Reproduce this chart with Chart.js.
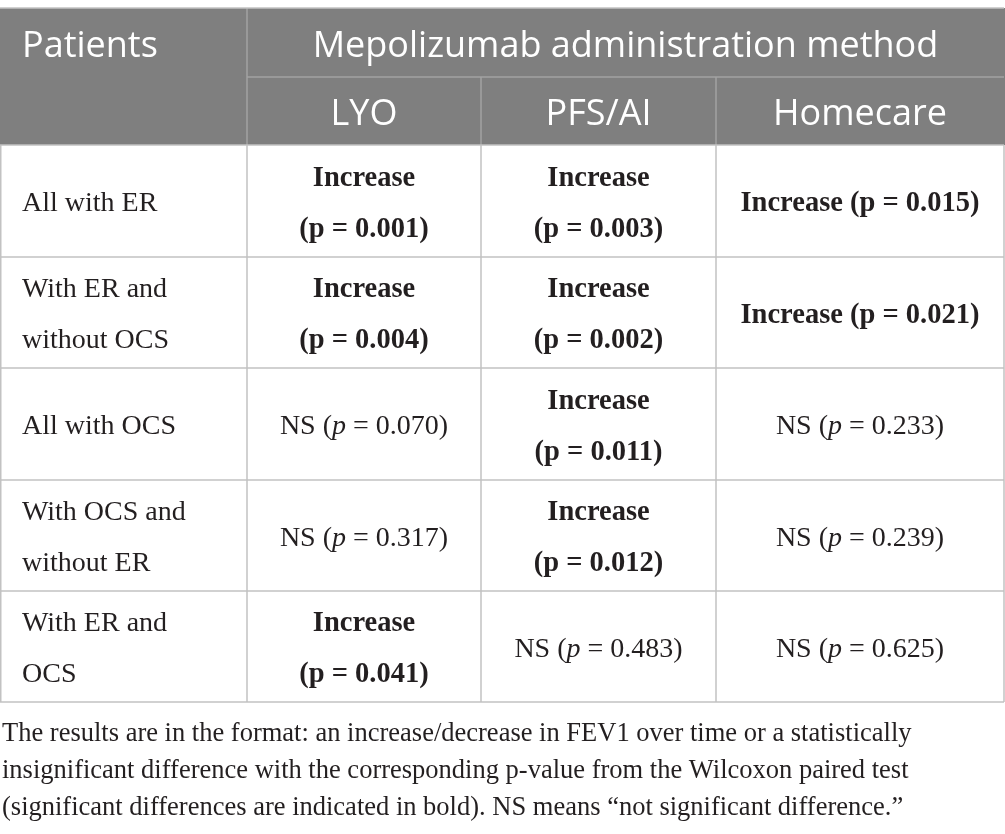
<!DOCTYPE html>
<html><head><meta charset="utf-8">
<style>html,body{margin:0;padding:0;background:#fff;overflow:hidden}#wrap{width:1005px;height:834px}</style>
<script src="https://cdn.jsdelivr.net/npm/chart.js@4.4.1/dist/chart.umd.min.js"></script>
</head><body><div id="wrap"><canvas id="c" width="1005" height="834"></canvas></div>
<script>
// ---------- data ----------
const cornerTitle = "Patients";
const groupTitle = "Mepolizumab administration method";
const methods = ["LYO", "PFS/AI", "Homecare"];
const patients = ["All with ER", "With ER and\nwithout OCS", "All with OCS", "With OCS and\nwithout ER", "With ER and\nOCS"];
const lyoP  = ["0.001", "0.004", "0.070", "0.317", "0.041"];
const lyoSig = [true, true, false, false, true];
const pfsP  = ["0.003", "0.002", "0.011", "0.012", "0.483"];
const pfsSig = [true, true, true, true, false];
const homeP = ["0.015", "0.021", "0.233", "0.239", "0.625"];
const homeSig = [true, true, false, false, false];
const footnote = [
  "The results are in the format: an increase/decrease in FEV1 over time or a statistically",
  "insignificant difference with the corresponding p-value from the Wilcoxon paired test",
  "(significant differences are indicated in bold). NS means \u201cnot significant difference.\u201d"
];

// ---------- layout (positions / styles) ----------
const colEdges = [0, 247, 481, 716, 1004];
const rowEdges = [8, 77, 145, 257, 368, 480, 591, 702];
const footBase = [741, 778, 815];
const HEAD_BG = "#7f7f7f", HEAD_LINE = "#a3a3a3", BODY_LINE = "#c2c2c2", TXT = "#231f20";
const HEAD_FONT = "36px 'Open Sans'";
const SERIF = "'Liberation Serif', 'DejaVu Serif', serif";
const BODY_PX = 28, BOLD_PX = 28.5, FOOT_PX = 26.5;

const pCols = [lyoP, pfsP, homeP];
const sCols = [lyoSig, pfsSig, homeSig];

// anchor points for each body cell (col index, row index)
const cellPoints = [];
patients.forEach((p, r) => {
  for (let c = 0; c < 4; c++) {
    cellPoints.push({
      x: c === 0 ? colEdges[0] + 22 : (colEdges[c] + colEdges[c + 1]) / 2,
      y: (rowEdges[r + 2] + rowEdges[r + 3]) / 2,
      r, c
    });
  }
});

function segsWidth(ctx, segs) {
  let w = 0;
  segs.forEach(s => { ctx.font = s.f; w += ctx.measureText(s.t).width; });
  return w;
}
function drawSegs(ctx, segs, x, y, align) {
  const w = segsWidth(ctx, segs);
  let cx = align === 'center' ? x - w / 2 : x;
  ctx.textAlign = 'left';
  segs.forEach(s => { ctx.font = s.f; ctx.fillText(s.t, cx, y); cx += ctx.measureText(s.t).width; });
}

const tablePlugin = {
  id: 'tablePlugin',
  beforeDatasetsDraw(chart) {
    const ctx = chart.ctx, xs = chart.scales.x, ys = chart.scales.y;
    const X = v => xs.getPixelForValue(v), Y = v => ys.getPixelForValue(v);
    ctx.save();
    ctx.fillStyle = HEAD_BG;
    ctx.fillRect(X(colEdges[0]), Y(rowEdges[0]), X(colEdges[4]) - X(colEdges[0]) + 1, Y(rowEdges[2]) - Y(rowEdges[0]));
    ctx.strokeStyle = HEAD_LINE; ctx.lineWidth = 1.5;
    ctx.beginPath();
    ctx.moveTo(X(colEdges[1]), Y(rowEdges[1])); ctx.lineTo(X(colEdges[4]), Y(rowEdges[1]));
    ctx.moveTo(X(colEdges[1]), Y(rowEdges[0])); ctx.lineTo(X(colEdges[1]), Y(rowEdges[2]));
    for (let c = 2; c < 4; c++) { ctx.moveTo(X(colEdges[c]), Y(rowEdges[1])); ctx.lineTo(X(colEdges[c]), Y(rowEdges[2])); }
    ctx.stroke();
    ctx.strokeStyle = BODY_LINE;
    ctx.beginPath();
    ctx.moveTo(X(colEdges[0]), Y(rowEdges[0])); ctx.lineTo(X(colEdges[4]), Y(rowEdges[0]));
    ctx.stroke();
    ctx.beginPath();
    for (let r = 2; r < rowEdges.length; r++) { ctx.moveTo(X(colEdges[0]), Y(rowEdges[r])); ctx.lineTo(X(colEdges[4]), Y(rowEdges[r])); }
    for (let c = 0; c < colEdges.length; c++) {
      const xx = c === 0 ? X(colEdges[c]) + 0.75 : X(colEdges[c]);
      ctx.moveTo(xx, Y(rowEdges[2])); ctx.lineTo(xx, Y(rowEdges[rowEdges.length - 1]));
    }
    ctx.stroke();
    ctx.restore();
  },
  afterDatasetsDraw(chart) {
    const ctx = chart.ctx, xs = chart.scales.x, ys = chart.scales.y;
    const X = v => xs.getPixelForValue(v), Y = v => ys.getPixelForValue(v);
    ctx.save();
    ctx.textBaseline = 'alphabetic';
    ctx.fillStyle = "#ffffff"; ctx.font = HEAD_FONT;
    const h1 = (rowEdges[0] + rowEdges[1]) / 2, h2 = (rowEdges[1] + rowEdges[2]) / 2;
    ctx.textAlign = 'left';
    ctx.fillText(cornerTitle, X(colEdges[0] + 22), Y(h1) + 14.5);
    ctx.textAlign = 'center';
    ctx.fillText(groupTitle, (X(colEdges[1]) + X(colEdges[4])) / 2, Y(h1) + 14.5);
    methods.forEach((m, i) => ctx.fillText(m, (X(colEdges[i + 1]) + X(colEdges[i + 2])) / 2, Y(h2) + 14));
    ctx.fillStyle = TXT;
    const reg = BODY_PX + "px " + SERIF, bold = "bold " + BOLD_PX + "px " + SERIF, ital = "italic " + BODY_PX + "px " + SERIF;
    const meta = chart.getDatasetMeta(0);
    meta.data.forEach((pt, i) => {
      const raw = cellPoints[i];
      let lines, align;
      if (raw.c === 0) {
        lines = patients[raw.r].split("\n").map(t => [{ t, f: reg }]);
        align = 'left';
      } else {
        const p = pCols[raw.c - 1][raw.r], sig = sCols[raw.c - 1][raw.r];
        align = 'center';
        if (sig) {
          const a = [{ t: "Increase", f: bold }], b = [{ t: "(p = " + p + ")", f: bold }];
          const one = [{ t: "Increase (p = " + p + ")", f: bold }];
          const avail = X(colEdges[raw.c + 1]) - X(colEdges[raw.c]) - 30;
          lines = segsWidth(ctx, one) <= avail ? [one] : [a, b];
        } else {
          lines = [[{ t: "NS (", f: reg }, { t: "p", f: ital }, { t: " = " + p + ")", f: reg }]];
        }
      }
      const n = lines.length;
      lines.forEach((segs, k) => drawSegs(ctx, segs, pt.x, pt.y + 10 + (k - (n - 1) / 2) * 51, align));
    });
    ctx.font = FOOT_PX + "px " + SERIF;
    footnote.forEach((t, k) => { ctx.textAlign = 'left'; ctx.fillText(t, X(2), Y(footBase[k])); });
    ctx.restore();
  }
};

new Chart(document.getElementById('c'), {
  type: 'scatter',
  data: { datasets: [{ data: cellPoints, pointRadius: 0, pointHoverRadius: 0 }] },
  options: {
    responsive: false, animation: false, devicePixelRatio: 1,
    layout: { padding: 0 },
    plugins: { legend: { display: false }, tooltip: { enabled: false } },
    events: [],
    scales: {
      x: { type: 'linear', min: 0, max: 1005, display: false },
      y: { type: 'linear', min: 0, max: 834, reverse: true, display: false }
    }
  },
  plugins: [tablePlugin]
});
</script></body></html>
